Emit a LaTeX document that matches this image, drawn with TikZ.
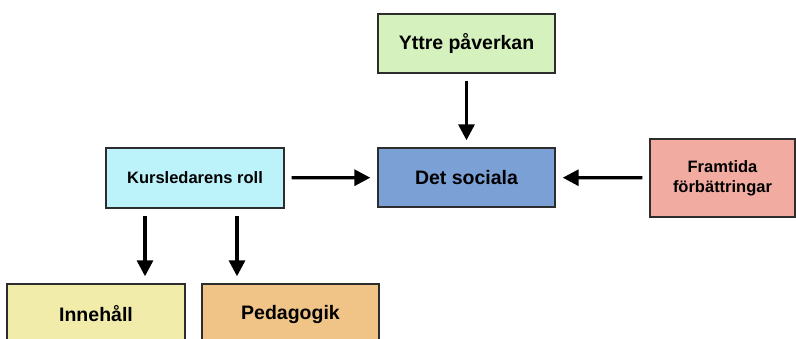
\documentclass[tikz,border=0pt]{standalone}
\usepackage{fontspec}
\setmainfont{Liberation Sans}
\usepackage{xcolor}
\usepackage{tikz}
\usetikzlibrary{arrows.meta}

\definecolor{yttrefill}{RGB}{213,242,190}
\definecolor{socialfill}{RGB}{123,160,214}
\definecolor{framtidfill}{RGB}{241,171,161}
\definecolor{kursfill}{RGB}{188,242,250}
\definecolor{innehfill}{RGB}{242,236,170}
\definecolor{pedafill}{RGB}{240,196,134}
\definecolor{boxline}{RGB}{45,45,45}

\begin{document}
\begin{tikzpicture}[x=1pt,y=-1pt,
    box/.style={draw=boxline,line width=1.4pt,inner sep=0pt,align=center,
        minimum width=177pt,minimum height=59pt,font=\bfseries\fontsize{19.5}{22}\selectfont},
    smallbox/.style={box,font=\bfseries\fontsize{16.5}{20}\selectfont},
    arr/.style={-{Triangle[length=16pt,width=16pt]},line width=3.2pt,shorten <=7pt,shorten >=7pt}]
    \useasboundingbox (0,0) rectangle (796,338);
    % boxes
    \node[box,fill=yttrefill] (yttre) at (466.5,43.5) {Yttre påverkan};
    \node[box,fill=socialfill] (social) at (466.5,177.5) {Det sociala};
    \node[smallbox,fill=kursfill,minimum width=178pt,minimum height=60pt] (kurs) at (195,178) {Kursledarens roll};
    \node[smallbox,fill=framtidfill,minimum width=145pt,minimum height=78pt] (framtid) at (722.5,178) {Framtida\\förbättringar};
    \node[box,fill=innehfill,minimum width=178pt,minimum height=60pt] (inneh) at (96,314) {Innehåll};
    \node[box,fill=pedafill,minimum height=60pt] (peda) at (290.5,314) {Pedagogik};
    % arrows
    \draw[arr] (yttre) -- (social);
    \draw[arr] (kurs) -- (social);
    \draw[arr] (framtid) -- (social);
    \draw[arr] ([xshift=-50pt]kurs.south) -- ([xshift=-50pt]kurs.south |- inneh.north);
    \draw[arr] ([xshift=42pt]kurs.south) -- ([xshift=42pt]kurs.south |- peda.north);
\end{tikzpicture}
\end{document}
